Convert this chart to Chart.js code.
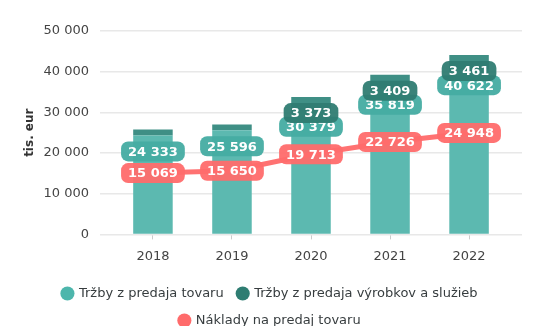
<!DOCTYPE html>
<html lang="sk">
<head>
<meta charset="UTF-8">
<title>Tržby a náklady</title>
<script src="https://cdn.jsdelivr.net/npm/chart.js@4.4.0/dist/chart.umd.min.js"></script>
<style>
  body { margin: 0; background: #fff; }
  .wrap { width: 551px; height: 326px; }
</style>
</head>
<body>
<div class="wrap"><canvas id="chart"></canvas></div>
<script>
// data
const years = [2018, 2019, 2020, 2021, 2022];
const trzbyTovar = [24333, 25596, 30379, 35819, 40622];
const trzbyVyrobky = [1450, 1400, 3373, 3409, 3461];
const naklady = [15069, 15650, 19713, 22726, 24948];
const yTicks = [0, 10000, 20000, 30000, 40000, 50000];
const seriesNames = ['Tržby z predaja tovaru', 'Tržby z predaja výrobkov a služieb', 'Náklady na predaj tovaru'];

const fmt = v => String(v).replace(/\B(?=(\d{3})+(?!\d))/g, ' ');
const pts = arr => arr.map((v, i) => ({ x: years[i], y: v }));

Chart.defaults.font.family = '"DejaVu Sans", sans-serif';
Chart.defaults.color = '#444';

// rounded value boxes (no datalabels plugin offline)
const boxLabels = {
  id: 'boxLabels',
  afterDatasetsDraw(chart) {
    const ctx = chart.ctx;
    ctx.save();
    ctx.font = 'bold 13px "DejaVu Sans"';
    ctx.textAlign = 'center';
    ctx.textBaseline = 'middle';
    chart.data.datasets.forEach((ds, i) => {
      const meta = chart.getDatasetMeta(i);
      meta.data.forEach((el, j) => {
        const v = ds.data[j].y;
        if (v < ds.labelMin) return;
        const text = fmt(v);
        const cy = ds.type === 'line' ? el.y : el.y + 16;
        const w = ctx.measureText(text).width + 14;
        const h = 20;
        ctx.fillStyle = ds.labelColor;
        ctx.beginPath();
        ctx.roundRect(el.x - w / 2, cy - h / 2, w, h, 7);
        ctx.fill();
        ctx.fillStyle = '#fff';
        ctx.fillText(text, el.x, cy + 1);
      });
    });
    ctx.restore();
  }
};

const legendColors = ['#4db6ac', '#2e7d72', '#ff6b6b'];

new Chart(document.getElementById('chart'), {
  type: 'bar',
  data: {
    datasets: [
      {
        label: seriesNames[0],
        data: pts(trzbyTovar),
        backgroundColor: '#5cb9b0',
        stack: 'trzby',
        order: 1,
        labelColor: 'rgba(69,172,162,0.95)',
        labelMin: 0
      },
      {
        label: seriesNames[1],
        data: pts(trzbyVyrobky),
        backgroundColor: '#3f8f85',
        stack: 'trzby',
        order: 1,
        labelColor: 'rgba(47,124,114,0.95)',
        labelMin: 2000
      },
      {
        type: 'line',
        label: seriesNames[2],
        data: pts(naklady),
        borderColor: '#ff7272',
        backgroundColor: '#ff6b6b',
        borderWidth: 5,
        pointRadius: 0,
        stack: 'naklady',
        order: 0,
        labelColor: 'rgba(255,107,107,0.95)',
        labelMin: 0
      }
    ]
  },
  options: {
    responsive: true,
    maintainAspectRatio: false,
    animation: false,
    layout: { padding: { top: 31, right: 29, left: 18, bottom: -11 } },
    datasets: { bar: { barPercentage: 0.5, categoryPercentage: 1 } },
    scales: {
      x: {
        type: 'linear',
        stacked: true,
        offset: false,
        min: years[0] - 0.67,
        max: years[years.length - 1] + 0.67,
        border: { display: false },
        grid: { drawOnChartArea: false, offset: false, tickLength: 5, color: '#ccc' },
        ticks: {
          stepSize: 1,
          includeBounds: false,
          padding: 9,
          color: '#444',
          font: { size: 13 },
          callback: v => String(v)
        }
      },
      y: {
        stacked: true,
        min: 0,
        max: 50000,
        border: { display: false },
        grid: { color: '#e8e8e8', drawTicks: false, lineWidth: 1.5 },
        afterBuildTicks: axis => { axis.ticks = yTicks.map(v => ({ value: v })); },
        afterFit: axis => { axis.width = 82; },
        ticks: {
          padding: 11,
          color: '#444',
          font: { size: 13 },
          callback: v => fmt(v)
        },
        title: {
          display: true,
          text: 'tis. eur',
          color: '#333',
          font: { size: 12, weight: 'bold' },
          padding: { top: 5, bottom: 5 }
        }
      }
    },
    plugins: {
      tooltip: { enabled: false },
      legend: {
        position: 'bottom',
        labels: {
          usePointStyle: true,
          pointStyle: 'circle',
          boxWidth: 10,
          boxHeight: 10,
          padding: 14,
          color: '#373d3f',
          font: { size: 13 },
          sort: (a, b) => a.datasetIndex - b.datasetIndex,
          generateLabels: chart => Chart.defaults.plugins.legend.labels.generateLabels(chart).map(l => ({
            ...l,
            fillStyle: legendColors[l.datasetIndex],
            strokeStyle: legendColors[l.datasetIndex],
            lineWidth: 0,
            pointStyle: 'circle'
          }))
        }
      }
    }
  },
  plugins: [boxLabels]
});
</script>
</body>
</html>
